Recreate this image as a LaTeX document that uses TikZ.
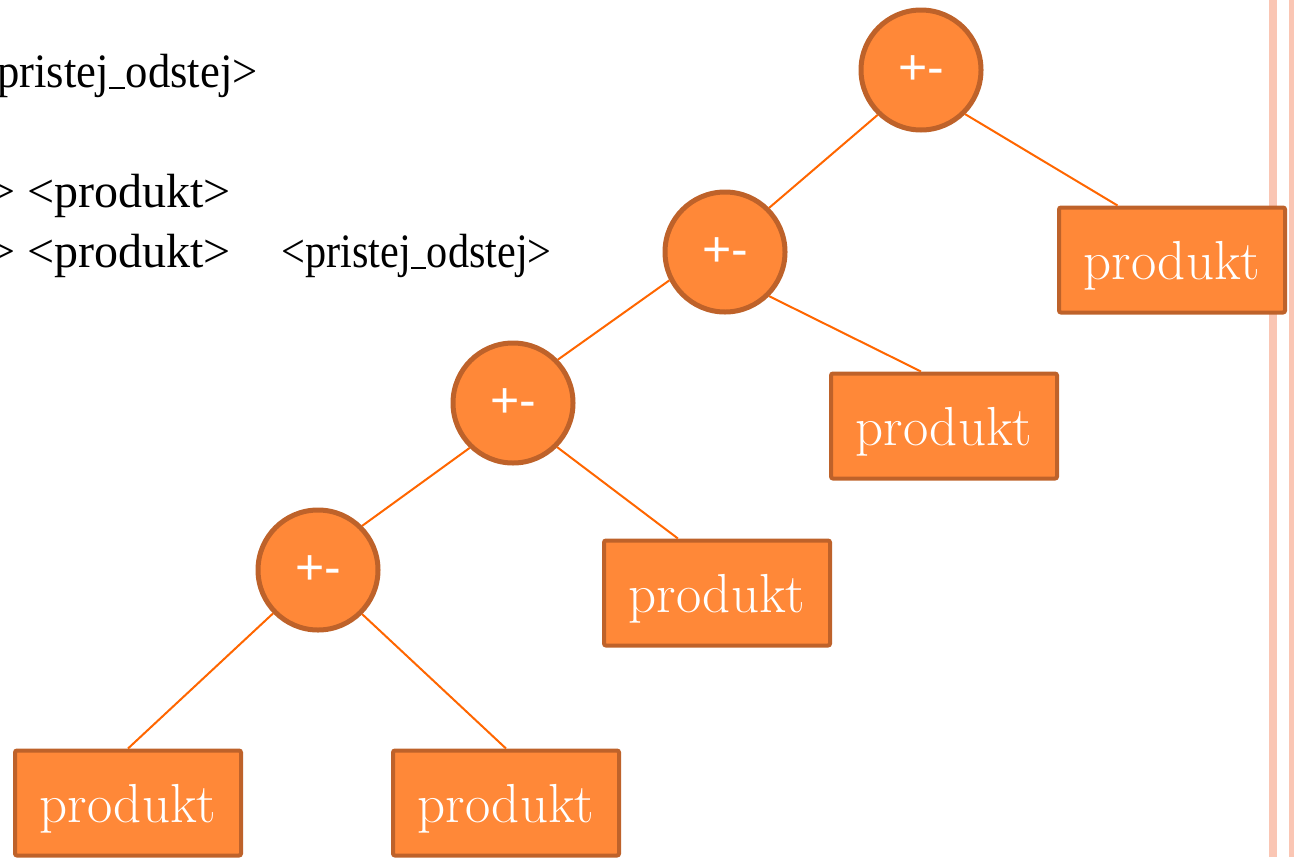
\documentclass[tikz,border=0pt]{standalone}
\usepackage{fontspec}
\usepackage{graphicx}
\usepackage{tikz}
\usetikzlibrary{calc}
\newfontfamily\timesfont{Liberation Serif}
\newfontfamily\arialfont{Liberation Sans}
\definecolor{oranzna}{RGB}{255,136,56}
\definecolor{obroba}{RGB}{190,98,42}
\definecolor{crta}{RGB}{255,102,0}
\definecolor{roza}{RGB}{250,198,180}
\newcommand{\podcrta}{\makebox[0.38em][c]{\rule[-0.04em]{0.36em}{0.045em}}}

\begin{document}
\begin{tikzpicture}[x=0.5pt, y=-0.5pt,
        op/.style={circle, fill=oranzna, draw=obroba, line width=2.5pt, minimum size=60pt, inner sep=0pt, text=white, font=\arialfont\fontsize{25}{30}\selectfont},
        prod/.style={rectangle, rounded corners=1pt, fill=oranzna, draw=obroba, line width=2pt, minimum width=113pt, minimum height=52.5pt, inner sep=0pt, text=white, text depth=0pt, font=\fontsize{27.5}{32}\selectfont},
        vrstica/.style={anchor=base east, inner sep=0pt, font=\timesfont\fontsize{24}{28}\selectfont},
        veja/.style={crta, line width=1pt}]
        \useasboundingbox (0,0) rectangle (1294,857);
        \clip (0,0) rectangle (1294,857);

        % rob strani
        \fill[roza] (1269,0) rectangle (1277,857);
        \fill[roza] (1289,0) rectangle (1294,857);

        % pravila
        \node[vrstica] (v1) at (258,87) {\scalebox{0.93}[1]{pristej\podcrta odstej>}};
        \node[vrstica] (v2) at (231,207) {> <produkt>};
        \node[vrstica] (v3) at (231,267) {> <produkt>};
        \node[vrstica] (v4) at (552,267) {\scalebox{0.88}[1]{<pristej\podcrta odstej>}};

        % drevo
        \node[op] (o1) at (921,70) {+-};
        \node[op] (o2) at (725,252) {+-};
        \node[op] (o3) at (513,403) {+-};
        \node[op] (o4) at (318,570) {+-};

        \node[prod] (k1) at (1172,260) {produkt};
        \node[prod] (k2) at (944,426) {produkt};
        \node[prod] (k3) at (717,593) {produkt};
        \node[prod] (k4) at (128,803) {produkt};
        \node[prod] (k5) at (506,803) {produkt};

        \draw[veja] (o1.226) -- (o2.45);
        \draw[veja] (o1.315) -- ($(k1.north west)!0.263!(k1.north east)$);
        \draw[veja] (o2.207) -- (o3.44);
        \draw[veja] (o2.315) -- ($(k2.north west)!0.40!(k2.north east)$);
        \draw[veja] (o3.226) -- (o4.45);
        \draw[veja] (o3.315) -- ($(k3.north west)!0.33!(k3.north east)$);
        \draw[veja] (o4.224) -- (k4.north);
        \draw[veja] (o4.315) -- (k5.north);

\end{tikzpicture}
\end{document}
